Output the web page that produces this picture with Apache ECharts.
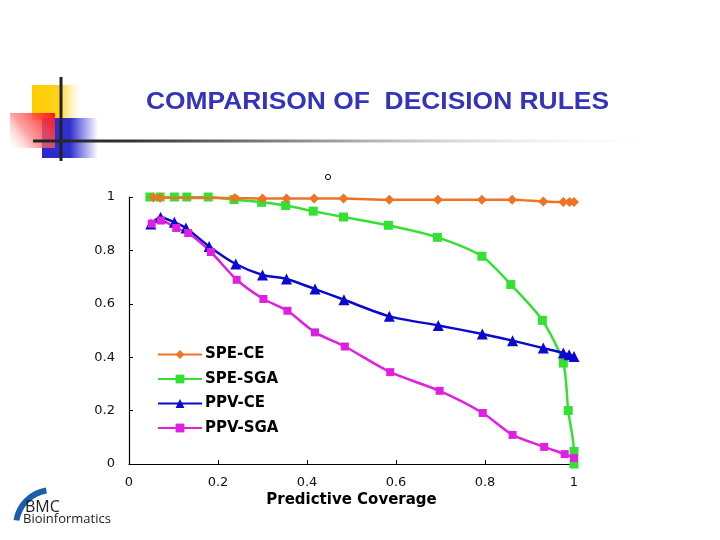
<!DOCTYPE html>
<html><head><meta charset="utf-8">
<script src="https://cdn.jsdelivr.net/npm/echarts@6/dist/echarts.min.js"></script>
<style>html,body{margin:0;padding:0;background:#fff}#c{width:720px;height:540px}</style>
</head><body><div id="c"></div>
<script>
const titleText = 'COMPARISON OF  DECISION RULES';
const xTitle = 'Predictive Coverage';
const seriesNames = ['SPE-CE', 'SPE-SGA', 'PPV-CE', 'PPV-SGA'];
const xTicks = [0, 0.2, 0.4, 0.6, 0.8, 1];
const yTicks = [0, 0.2, 0.4, 0.6, 0.8, 1];

const speCE = [[0.055,0.998],[0.07,0.997],[0.238,0.996],[0.30,0.994],[0.354,0.994],[0.416,0.994],[0.482,0.994],[0.585,0.99],[0.694,0.99],[0.793,0.99],[0.861,0.99],[0.931,0.983],[0.976,0.981],[0.99,0.981],[1.0,0.981]];
const speSGA = [[0.047,1.0],[0.07,1.0],[0.102,1.0],[0.13,1.0],[0.178,1.0],[0.236,0.99],[0.298,0.98],[0.352,0.968],[0.414,0.947],[0.482,0.925],[0.583,0.894],[0.693,0.849],[0.793,0.778],[0.858,0.672],[0.929,0.538],[0.976,0.378],[0.987,0.2],[1.0,0.047],[1.0,0.0]];
const ppvCE = [[0.049,0.899],[0.071,0.924],[0.102,0.905],[0.128,0.884],[0.18,0.815],[0.24,0.749],[0.30,0.708],[0.354,0.693],[0.418,0.655],[0.483,0.615],[0.585,0.553],[0.695,0.519],[0.794,0.487],[0.862,0.462],[0.931,0.434],[0.976,0.416],[0.989,0.409],[1.0,0.403]];
const ppvSGA = [[0.051,0.9],[0.072,0.912],[0.106,0.884],[0.133,0.865],[0.184,0.794],[0.242,0.69],[0.302,0.618],[0.356,0.574],[0.418,0.493],[0.485,0.44],[0.587,0.344],[0.698,0.274],[0.795,0.191],[0.862,0.109],[0.933,0.064],[0.979,0.037],[1.0,0.022]];

const colors = ['#EC7424', '#33E033', '#0A0ACC', '#E020E0'];
const symbols = ['diamond', 'rect', 'triangle', 'rect'];
const sizes = [10, 9, 11, 8];
const datas = [speCE, speSGA, ppvCE, ppvSGA];

const chart = echarts.init(document.getElementById('c'));
const labelFmt = v => (v === 0 || v === 1) ? String(v) : v.toFixed(1);

chart.setOption({
  backgroundColor: '#fff',
  animation: false,
  grid: { left: 129, right: 146, top: 197, bottom: 76, containLabel: false },
  xAxis: {
    type: 'value', min: 0, max: 1, interval: 0.2,
    axisLine: { lineStyle: { color: '#000', width: 1.2 } },
    axisTick: { inside: true, length: 4, lineStyle: { color: '#000' } },
    splitLine: { show: false },
    axisLabel: { formatter: labelFmt, color: '#111', fontFamily: 'DejaVu Sans', fontSize: 13, margin: 12 },
    name: xTitle, nameLocation: 'middle', nameGap: 29,
    nameTextStyle: { color: '#000', fontFamily: 'DejaVu Sans', fontWeight: 'bold', fontSize: 15 }
  },
  yAxis: {
    type: 'value', min: 0, max: 1, interval: 0.2,
    axisLine: { show: true, lineStyle: { color: '#000', width: 1.2 } },
    axisTick: { show: true, inside: true, length: 4, lineStyle: { color: '#000' } },
    splitLine: { show: false },
    axisLabel: { formatter: labelFmt, color: '#111', fontFamily: 'DejaVu Sans', fontSize: 13, margin: 14 }
  },
  legend: {
    orient: 'vertical', left: 157, top: 347, padding: 0, itemWidth: 44, itemHeight: 11, itemGap: 9.5,
    textStyle: { color: '#000', fontFamily: 'DejaVu Sans', fontWeight: 'bold', fontSize: 15, padding: [0,0,0,-2] },
    data: seriesNames
  },
  series: seriesNames.map((n, i) => ({
    name: n, type: 'line', data: datas[i], smooth: 0.25,
    symbol: symbols[i], symbolSize: sizes[i], showSymbol: true,
    lineStyle: { color: colors[i], width: 2.5 },
    itemStyle: { color: colors[i] },
    z: 2 + (i === 1 ? 0 : 1)
  })),
  graphic: [
    { type: 'rect', shape: { x: 32, y: 85, width: 48, height: 35 }, style: { fill: new echarts.graphic.LinearGradient(0,0,1,0,[{offset:0,color:'#FFCC00'},{offset:0.55,color:'#FFD21A'},{offset:1,color:'rgba(255,230,120,0)'}]) }, z: 1 },
    { type: 'rect', shape: { x: 42, y: 118, width: 56, height: 40 }, style: { fill: new echarts.graphic.LinearGradient(0,0,1,0,[{offset:0,color:'#2A2ACC'},{offset:0.5,color:'#3030CC'},{offset:1,color:'rgba(60,60,220,0)'}]) }, z: 2 },
    { type: 'rect', shape: { x: 10, y: 113, width: 45, height: 35 }, style: { fill: new echarts.graphic.LinearGradient(1,0,0,1,[{offset:0,color:'#FF1010'},{offset:0.6,color:'rgba(250,120,120,0.7)'},{offset:1,color:'rgba(255,255,255,0.2)'}]) }, z: 3 },
    { type: 'line', shape: { x1: 61, y1: 77, x2: 61, y2: 161 }, style: { stroke: '#222', lineWidth: 3 }, z: 4 },
    { type: 'rect', shape: { x: 33, y: 139.5, width: 640, height: 3 }, style: { fill: new echarts.graphic.LinearGradient(0,0,1,0,[{offset:0,color:'#222'},{offset:0.15,color:'#333'},{offset:0.5,color:'#aaa'},{offset:1,color:'rgba(255,255,255,0)'}]) }, z: 4 },
    { type: 'text', x: 146, y: 90, scaleX: 1.1, style: { text: titleText, fill: '#3333BB', font: 'bold 24px "Liberation Sans", Arial, sans-serif' }, z: 5 },
    { type: 'circle', shape: { cx: 328, cy: 177, r: 2.6 }, style: { fill: 'none', stroke: '#000', lineWidth: 1 } },
    { type: 'arc', shape: { cx: 52, cy: 526, r: 36, startAngle: Math.PI * 1.05, endAngle: Math.PI * 1.45 }, style: { stroke: '#1A5FAA', lineWidth: 6, fill: 'none' } },
    { type: 'text', left: 25, top: 499, style: { text: 'BMC', fill: '#222', font: '16px "Open Sans", sans-serif' } },
    { type: 'text', left: 23, top: 513, style: { text: 'Bioinformatics', fill: '#222', font: '13px "Open Sans", sans-serif' } }
  ]
});
</script></body></html>
